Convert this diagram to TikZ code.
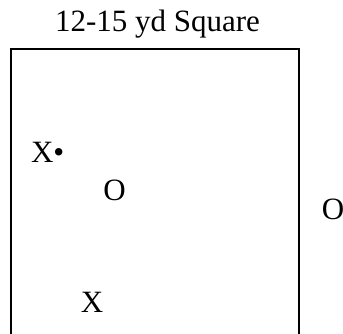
\documentclass[tikz,border=0pt]{standalone}
\usepackage{fontspec}
\setmainfont{Liberation Serif}
\begin{document}
\begin{tikzpicture}[x=1pt,y=-1pt,
  lbl/.style={inner sep=0pt,outer sep=0pt,anchor=base,font=\fontsize{31}{36}\selectfont},
  boxline/.style={line width=2.3pt}]
\useasboundingbox (0,0) rectangle (343,334);
\fill[white] (0,0) rectangle (343,334);
\draw[boxline] (11.3,340) -- (11.3,49) -- (299,49) -- (299,340);
\node[lbl] (title) at (157.5,32) {12-15 yd Square};
\node[lbl,anchor=base west] (x1) at (31,163) {X•};
\node[lbl] (o1) at (114.5,200.5) {O};
\node[lbl] (o2) at (333,219.5) {O};
\node[lbl] (x2) at (92,312) {X};
\end{tikzpicture}
\end{document}
